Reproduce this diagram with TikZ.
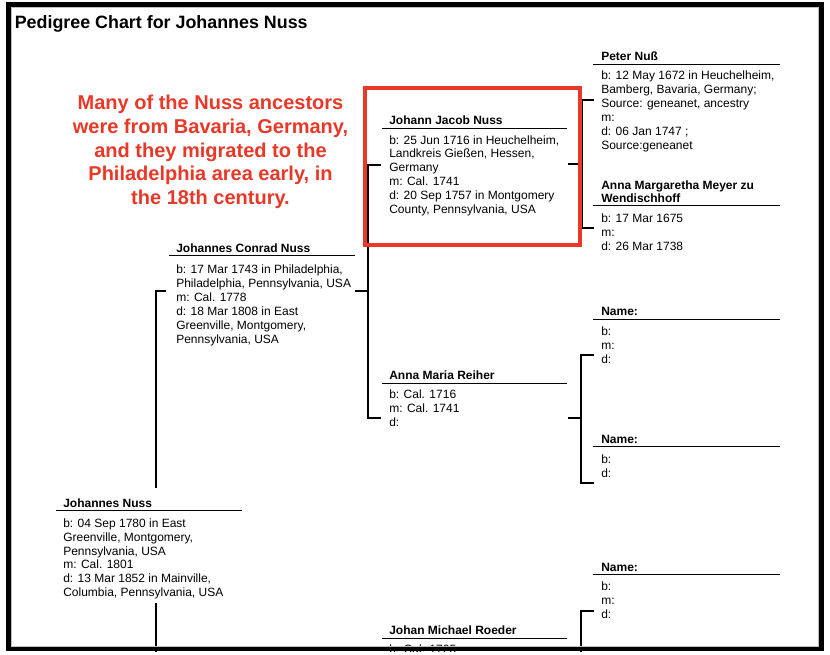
\documentclass[tikz,border=0pt]{standalone}
\usepackage{fontspec}
\setmainfont{Liberation Sans}
\definecolor{noteRed}{RGB}{232,56,40}
\begin{document}
\begin{tikzpicture}[x=0.75pt,y=-0.75pt,
  nm/.style={anchor=base west, inner sep=0pt, font=\fontsize{9}{10.4}\selectfont\bfseries},
  nmm/.style={anchor=north west, inner sep=0pt, yshift=8pt, align=left, font=\fontsize{9}{10.1}\selectfont\bfseries},
  bd/.style={anchor=north west, inner sep=0pt, yshift=8pt, align=left, font=\fontsize{9}{10.4}\selectfont},
  uline/.style={line width=0.95pt},
  conn/.style={line width=1.5pt},
]
\useasboundingbox (0,0) rectangle (830,654);
\fill[white] (0,0) rectangle (830,654);

% ---------- title ----------
\node[anchor=base west, inner sep=0pt, font=\fontsize{13.4}{16}\selectfont\bfseries] (title) at (14.5,28.5) {Pedigree Chart for Johannes Nuss};

% ---------- note ----------
\node[anchor=north, inner sep=0pt, yshift=12pt, align=center, text=noteRed,
      font=\fontsize{15}{17.8}\selectfont\bfseries] (note) at (210.5,109.5)
  {\rule{0pt}{12pt}Many of the Nuss ancestors\\were from Bavaria, Germany,\\and they migrated to the\\Philadelphia area early, in\\the 18th century.};

% ---------- generation 4 (right column) ----------
% Peter Nuss
\coordinate (pn-l) at (593,64.3); \coordinate (pn-r) at (780,64.3);
\draw[uline] (pn-l) -- (pn-r);
\node[nm] (pn-name) at (601,60.5) {Peter Nuß};
\node[bd] (pn-body) at (601,79.5) {\rule{0pt}{8pt}b: 12 May 1672 in Heuchelheim,\\Bamberg, Bavaria, Germany;\\Source: geneanet, ancestry\\m:\\d: 06 Jan 1747 ;\\Source:geneanet};

% Anna Margaretha
\coordinate (am-l) at (593,205.7); \coordinate (am-r) at (780,205.7);
\draw[uline] (am-l) -- (am-r);
\node[nmm] (am-name) at (601,189) {\rule{0pt}{8pt}Anna Margaretha Meyer zu\\Wendischhoff};
\node[bd] (am-body) at (601,222) {\rule{0pt}{8pt}b: 17 Mar 1675\\m:\\d: 26 Mar 1738};

% Name 1
\coordinate (n1-l) at (593,319.3); \coordinate (n1-r) at (780,319.3);
\draw[uline] (n1-l) -- (n1-r);
\node[nm] (n1-name) at (601,315.5) {Name:};
\node[bd] (n1-body) at (601,335.5) {\rule{0pt}{8pt}b:\\m:\\d:};

% Name 2
\coordinate (n2-l) at (593,446.7); \coordinate (n2-r) at (780,446.7);
\draw[uline] (n2-l) -- (n2-r);
\node[nm] (n2-name) at (601,443.3) {Name:};
\node[bd] (n2-body) at (601,463.5) {\rule{0pt}{8pt}b:\\d:};

% Name 3
\coordinate (n3-l) at (593,574.3); \coordinate (n3-r) at (780,574.3);
\draw[uline] (n3-l) -- (n3-r);
\node[nm] (n3-name) at (601,571.5) {Name:};
\node[bd] (n3-body) at (601,590.3) {\rule{0pt}{8pt}b:\\m:\\d:};

% ---------- generation 3 ----------
% Johann Jacob Nuss
\coordinate (jj-l) at (382,128.3); \coordinate (jj-r) at (567,128.3);
\draw[uline] (jj-l) -- (jj-r);
\node[nm] (jj-name) at (389,124) {Johann Jacob Nuss};
\node[bd] (jj-body) at (389,143.8) {\rule{0pt}{8pt}b: 25 Jun 1716 in Heuchelheim,\\Landkreis Gießen, Hessen,\\Germany\\m: Cal. 1741\\d: 20 Sep 1757 in Montgomery\\County, Pennsylvania, USA};

% Anna Maria Reiher
\coordinate (ar-l) at (382,383.3); \coordinate (ar-r) at (567,383.3);
\draw[uline] (ar-l) -- (ar-r);
\node[nm] (ar-name) at (389,379) {Anna Maria Reiher};
\node[bd] (ar-body) at (389,398.6) {\rule{0pt}{8pt}b: Cal. 1716\\m: Cal. 1741\\d:};

% Johan Michael Roeder
\coordinate (jm-l) at (382,638.3); \coordinate (jm-r) at (567,638.3);
\draw[uline] (jm-l) -- (jm-r);
\node[nm] (jm-name) at (389,634) {Johan Michael Roeder};
\node[bd] (jm-body) at (389,653.6) {\rule{0pt}{8pt}b: Cal. 1725};

% ---------- generation 2 ----------
\coordinate (jc-l) at (169,255.7); \coordinate (jc-r) at (355,255.7);
\draw[uline] (jc-l) -- (jc-r);
\node[nm] (jc-name) at (176,252.5) {Johannes Conrad Nuss};
\node[bd] (jc-body) at (176,273.6) {\rule{0pt}{8pt}b: 17 Mar 1743 in Philadelphia,\\Philadelphia, Pennsylvania, USA\\m: Cal. 1778\\d: 18 Mar 1808 in East\\Greenville, Montgomery,\\Pennsylvania, USA};

% ---------- generation 1 ----------
\coordinate (jn-l) at (56,510.7); \coordinate (jn-r) at (242,510.7);
\draw[uline] (jn-l) -- (jn-r);
\node[nm] (jn-name) at (63,507.3) {Johannes Nuss};
\node[bd] (jn-body) at (63,527) {\rule{0pt}{8pt}b: 04 Sep 1780 in East\\Greenville, Montgomery,\\Pennsylvania, USA\\m: Cal. 1801\\d: 13 Mar 1852 in Mainville,\\Columbia, Pennsylvania, USA};

% ---------- connectors ----------
% Johannes Nuss -> parents
\coordinate (b1-top) at (156,291);
\coordinate (b1-stub) at (166,291);
\coordinate (b1-a) at (156,488);
\coordinate (b1-b) at (156,603);
\coordinate (b1-bot) at (156,660);
\draw[conn] (b1-stub) -- (b1-top) -- (b1-a);
\draw[conn] (b1-b) -- (b1-bot);

% Johannes Conrad -> parents
\coordinate (b2-in) at (355,291);
\coordinate (b2-mid) at (368,291);
\coordinate (b2-top) at (368,164.5);
\coordinate (b2-bot) at (368,418);
\coordinate (b2-f) at (381,164.5);
\coordinate (b2-m) at (381,418);
\draw[conn] (b2-in) -- (b2-mid);
\draw[conn] (b2-f) -- (b2-top) -- (b2-bot) -- (b2-m);

% Johann Jacob -> parents
\coordinate (b3-in) at (568,163.5);
\coordinate (b3-mid) at (582,163.5);
\coordinate (b3-top) at (582,100);
\coordinate (b3-bot) at (582,228);
\coordinate (b3-f) at (594,100);
\coordinate (b3-m) at (594,228);
\draw[conn] (b3-in) -- (b3-mid);
\draw[conn] (b3-f) -- (b3-top) -- (b3-bot) -- (b3-m);

% Anna Maria Reiher -> parents
\coordinate (b4-in) at (568,418);
\coordinate (b4-mid) at (581,418);
\coordinate (b4-top) at (581,355);
\coordinate (b4-bot) at (581,483);
\coordinate (b4-f) at (594,355);
\coordinate (b4-m) at (594,483);
\draw[conn] (b4-in) -- (b4-mid);
\draw[conn] (b4-f) -- (b4-top) -- (b4-bot) -- (b4-m);

% Johan Michael Roeder -> parents (partly visible)
\coordinate (b5-f) at (594,611);
\coordinate (b5-top) at (581,611);
\coordinate (b5-bot) at (581,660);
\draw[conn] (b5-f) -- (b5-top) -- (b5-bot);

% ---------- highlight box ----------
\draw[noteRed, line width=3pt] (365,88) rectangle (580,245);

% ---------- outer frame ----------
\fill[white] (0,651.5) rectangle (830,660);
\draw[black!25, line width=0.6pt] (11.5,7.5) rectangle (818.5,646);
\draw[line width=3.2pt] (8.5,4.5) rectangle (821.5,649);
\end{tikzpicture}
\end{document}
